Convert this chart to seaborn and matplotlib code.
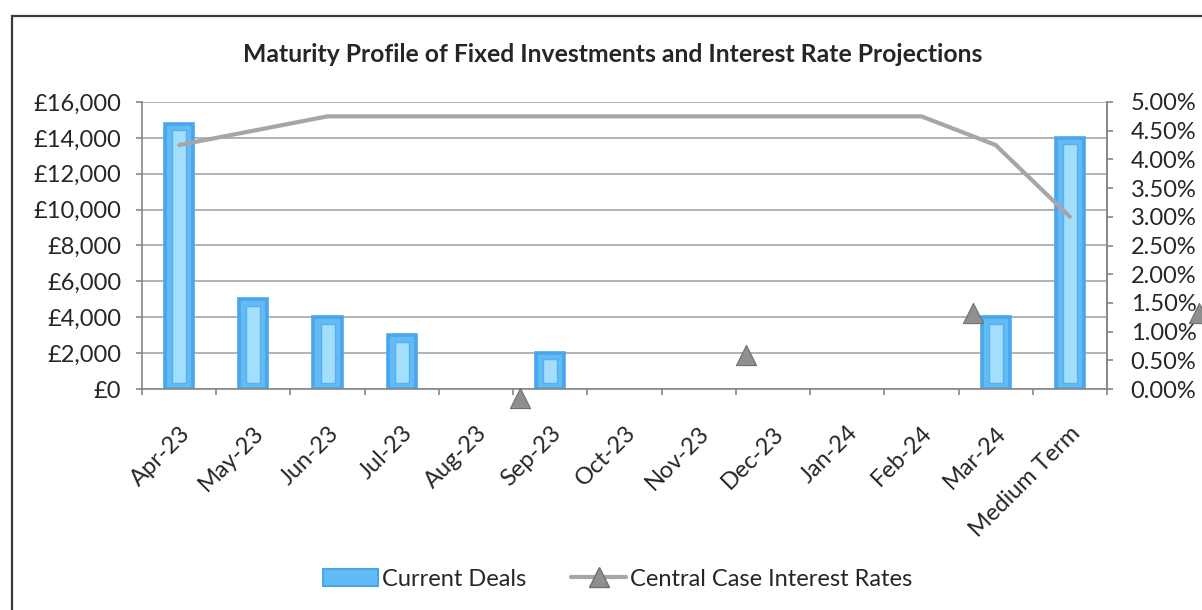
import numpy as np
import pandas as pd
import matplotlib.pyplot as plt
import seaborn as sns
from matplotlib.patches import Rectangle, Patch
from matplotlib.lines import Line2D
from matplotlib.ticker import FuncFormatter, MultipleLocator

# Data
categories = ['Apr-23', 'May-23', 'Jun-23', 'Jul-23', 'Aug-23', 'Sep-23', 'Oct-23',
              'Nov-23', 'Dec-23', 'Jan-24', 'Feb-24', 'Mar-24', 'Medium Term']
current_deals = [14800, 5000, 4000, 3000, np.nan, 2000, np.nan,
                 np.nan, np.nan, np.nan, np.nan, 4000, 14000]
interest_rates = [4.25, 4.5, 4.75, 4.75, 4.75, 4.75, 4.75,
                  4.75, 4.75, 4.75, 4.75, 4.25, 3.0]
# stray triangle markers of the rate series (category units, %)
marker_pos = [4.59, 7.64, 10.69, 13.74]
marker_rates = [-0.15, 0.6, 1.33, 1.33]

sns.set_theme(style='white')
plt.rcParams['font.family'] = ['Lato', 'DejaVu Sans']

W, H = 1202, 610
fig = plt.figure(figsize=(W / 100, H / 100), dpi=100)

# outer chart frame (only top/left visible in reference)
fig.patches.append(Rectangle((12 / W, -0.1), 1.2, (H - 16) / H + 0.1, transform=fig.transFigure,
                             fill=False, edgecolor='#3a3a3a', linewidth=1.6))

ax = fig.add_axes([142 / W, (H - 389) / H, 965 / W, 287 / H])

df = pd.DataFrame({'month': categories, 'deals': current_deals})
sns.barplot(data=df, x='month', y='deals', order=categories, ax=ax, width=0.38,
            color='#62bbf4', edgecolor='#4aa6ec', linewidth=2.6, saturation=1)

# inner highlight panel on each bar (bevelled look)
for p in list(ax.patches):
    h = p.get_height()
    if not np.isfinite(h) or h <= 0:
        continue
    x0, w = p.get_x(), p.get_width()
    ix = w * 0.25
    iy = 16000 * 0.022
    ax.add_patch(Rectangle((x0 + ix, iy), w - 2 * ix, h - 2 * iy,
                           facecolor='#a3defc', edgecolor='#58afee', linewidth=1.0, zorder=3))

ax.set_ylim(0, 16000)
ax.set_xlim(-0.5, len(categories) - 0.5)
ax.yaxis.set_major_locator(MultipleLocator(2000))
ax.yaxis.set_major_formatter(FuncFormatter(lambda v, _: f'£{v:,.0f}'))
ax.grid(axis='y', color='#a6a6a6', linewidth=1.2)
ax.set_axisbelow(True)
ax.set_xlabel('')
ax.set_ylabel('')

ax.set_xticks(np.arange(len(categories) + 1) - 0.5, minor=False)
ax.set_xticklabels([])
ax.set_xticks(np.arange(len(categories)), minor=True)
ax.set_xticklabels(categories, minor=True, rotation=45, ha='right',
                   rotation_mode='anchor', fontsize=17)
ax.tick_params(axis='x', which='major', length=4, color='#868686', width=1.2, bottom=True)
ax.tick_params(axis='x', which='minor', length=0, pad=24)
ax.tick_params(axis='y', length=4, color='#868686', width=1.2, left=True, labelsize=17, pad=11)

for side in ['left', 'bottom', 'right']:
    ax.spines[side].set_color('#868686')
    ax.spines[side].set_linewidth(1.2)
ax.spines['top'].set_visible(False)

# interest rates on secondary axis
ax2 = ax.twinx()
rates_df = pd.DataFrame({'pos': np.arange(len(categories)), 'rate': interest_rates})
sns.lineplot(data=rates_df, x='pos', y='rate', ax=ax2, color='#a6a6a6', linewidth=3,
             sort=False, legend=False)
sns.scatterplot(x=marker_pos, y=marker_rates, ax=ax2, marker='^', s=210,
                color='#8f8f8f', edgecolor='#707070', linewidth=0.8, clip_on=False,
                zorder=5, legend=False)
ax2.set_ylim(0, 5)
ax2.set_xlim(-0.5, len(categories) - 0.5)
ax2.yaxis.set_major_locator(MultipleLocator(0.5))
ax2.yaxis.set_major_formatter(FuncFormatter(lambda v, _: f'{v:.2f}%'))
ax2.tick_params(axis='y', length=4, color='#868686', width=1.2, right=True, labelsize=17, pad=13)
ax2.set_ylabel('')
ax2.set_xlabel('')
for side in ['left', 'bottom', 'top']:
    ax2.spines[side].set_visible(False)
ax2.spines['right'].set_color('#868686')
ax2.spines['right'].set_linewidth(1.2)
ax2.grid(False)

fig.text(613 / W, 1 - 55 / H, 'Maturity Profile of Fixed Investments and Interest Rate Projections',
         ha='center', va='center', fontsize=17.8, fontweight='bold')

handles = [Patch(facecolor='#62bbf4', edgecolor='#4aa6ec', linewidth=1.5),
           Line2D([0], [0], color='#a6a6a6', linewidth=3, marker='^', markersize=14,
                  markerfacecolor='#8f8f8f', markeredgecolor='#707070')]
fig.legend(handles, ['Current Deals', 'Central Case Interest Rates'], loc='center',
           bbox_to_anchor=(618 / W, 1 - 579 / H), ncol=2, frameon=False, fontsize=17,
           handlelength=2.3, handletextpad=0.2, columnspacing=1.9)

fig.savefig('out.png', dpi=100)
